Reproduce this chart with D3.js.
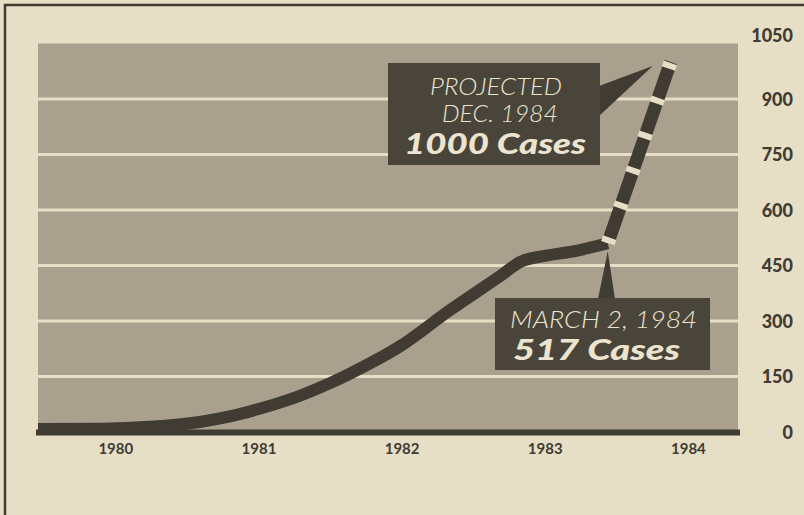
<!DOCTYPE html>
<html>
<head>
<meta charset="utf-8">
<script src="https://cdn.jsdelivr.net/npm/d3@7"></script>
<style>
  html, body { margin: 0; padding: 0; background: #e7dec6; }
  svg { display: block; }
</style>
</head>
<body>
<svg id="chart"></svg>
<script>
let years = [1979.46, 1979.9, 1980.24, 1980.59, 1980.8, 1981.0, 1981.29, 1981.5, 1981.64, 1981.99, 1982.34, 1982.69, 1982.83, 1983.0, 1983.21, 1983.44];
let cases = [8, 9, 14, 27, 42, 62, 98, 132, 158, 232, 330, 422, 460, 476, 489, 510];
let projYears = [1983.44, 1983.88];
let projCases = [510, 1000];
let yTicks = [0, 150, 300, 450, 600, 750, 900, 1050];
let xTicks = [1980, 1981, 1982, 1983, 1984];

let width = 804, height = 515;
let plot = { left: 38, right: 738, top: 43.5, bottom: 432 };

let ink = "#403b33";
let paper = "#e7dec6";
let screen = "#a9a18d";

let x = d3.scaleLinear().domain([1979.46, 1984.35]).range([plot.left, plot.right]);
let y = d3.scaleLinear().domain([0, 1050]).range([plot.bottom, plot.top]);

let svg = d3.select("#chart")
  .attr("width", width)
  .attr("height", height);

// frame
svg.append("path")
  .attr("d", "M5,515 L5,5 L804,5")
  .attr("fill", "none")
  .attr("stroke", ink)
  .attr("stroke-width", 2.5);

// halftone panel
svg.append("rect")
  .attr("x", plot.left)
  .attr("y", plot.top)
  .attr("width", plot.right - plot.left)
  .attr("height", plot.bottom - plot.top)
  .attr("fill", screen);

// gridlines
svg.selectAll(".grid")
  .data(yTicks.filter(d => d > 0 && d < 1050))
  .enter().append("line")
  .attr("class", "grid")
  .attr("x1", plot.left)
  .attr("x2", plot.right)
  .attr("y1", d => y(d))
  .attr("y2", d => y(d))
  .attr("stroke", paper)
  .attr("stroke-width", 3);

// baseline
svg.append("line")
  .attr("x1", plot.left - 2)
  .attr("x2", plot.right + 2)
  .attr("y1", y(0) + 0.5)
  .attr("y2", y(0) + 0.5)
  .attr("stroke", ink)
  .attr("stroke-width", 6);

// y axis on the right
let yAxis = d3.axisRight(y).tickValues(yTicks).tickSize(0).tickFormat(d3.format("d"));
let gy = svg.append("g")
  .attr("transform", "translate(793,0)")
  .call(yAxis);
gy.select(".domain").remove();
gy.selectAll("text")
  .attr("x", 0)
  .attr("dy", "0.36em")
  .attr("text-anchor", "end")
  .attr("fill", ink)
  .style("font-family", "Lato, 'Open Sans', sans-serif")
  .style("font-weight", 900)
  .style("font-size", "18px");
gy.selectAll(".tick").filter(d => d === 1050).select("text").attr("dy", "-0.1em");

// x axis
let xAxis = d3.axisBottom(x).tickValues(xTicks).tickSize(0).tickFormat(d3.format("d"));
let gx = svg.append("g")
  .attr("transform", "translate(0," + (plot.bottom + 8) + ")")
  .call(xAxis);
gx.select(".domain").remove();
gx.selectAll("text")
  .attr("fill", ink)
  .style("font-family", "Lato, 'Open Sans', sans-serif")
  .style("font-weight", 700)
  .style("font-size", "15px");

// reported cases
let line = d3.line()
  .x(d => x(d[0]))
  .y(d => y(d[1]))
  .curve(d3.curveMonotoneX);

svg.append("path")
  .datum(d3.zip(years, cases))
  .attr("d", line)
  .attr("fill", "none")
  .attr("stroke", ink)
  .attr("stroke-width", 12)
  .attr("stroke-linecap", "butt");

// projection: dark bar with paper-coloured breaks
let projLine = d3.line().x(d => x(d[0])).y(d => y(d[1]));
let proj = d3.zip(projYears, projCases);
svg.append("path")
  .datum(proj)
  .attr("d", projLine)
  .attr("fill", "none")
  .attr("stroke", ink)
  .attr("stroke-width", 13);
svg.append("path")
  .datum(proj)
  .attr("d", projLine)
  .attr("fill", "none")
  .attr("stroke", paper)
  .attr("stroke-width", 14)
  .attr("stroke-dasharray", "6,31");

// callouts
function callout(box, pointer, lines) {
  let g = svg.append("g");
  g.append("path")
    .attr("d", "M" + pointer.map(p => p.join(",")).join("L") + "Z")
    .attr("fill", ink);
  g.append("rect")
    .attr("x", box.x).attr("y", box.y)
    .attr("width", box.w).attr("height", box.h)
    .attr("fill", "#4a453b");
  lines.forEach(l => {
    g.append("text")
      .attr("x", l.x)
      .attr("y", l.y)
      .attr("textLength", l.len)
      .attr("lengthAdjust", "spacingAndGlyphs")
      .attr("fill", "#ece4cf")
      .style("font-family", "Lato, 'Open Sans', sans-serif")
      .style("font-style", "italic")
      .style("font-weight", l.bold ? 900 : 300)
      .style("font-size", l.size + "px")
      .text(l.text);
  });
}

let endProj = [x(projYears[1]), y(projCases[1])];
let startProj = [x(projYears[0]), y(projCases[0])];

callout({ x: 388, y: 63, w: 212, h: 102 },
  [[599, 86], [endProj[0] - 18, endProj[1] + 4], [599, 116]],
  [
    { text: "PROJECTED", x: 430, y: 95, len: 132, size: 24 },
    { text: "DEC. 1984", x: 442, y: 122, len: 116, size: 24 },
    { text: "1000 Cases", x: 404, y: 154, len: 182, size: 28, bold: true }
  ]);

callout({ x: 495, y: 298, w: 215, h: 72 },
  [[598, 299], [startProj[0], startProj[1] + 8], [615, 299]],
  [
    { text: "MARCH 2, 1984", x: 510, y: 328, len: 187, size: 24 },
    { text: "517 Cases", x: 513, y: 360, len: 167, size: 29, bold: true }
  ]);
</script>
</body>
</html>
